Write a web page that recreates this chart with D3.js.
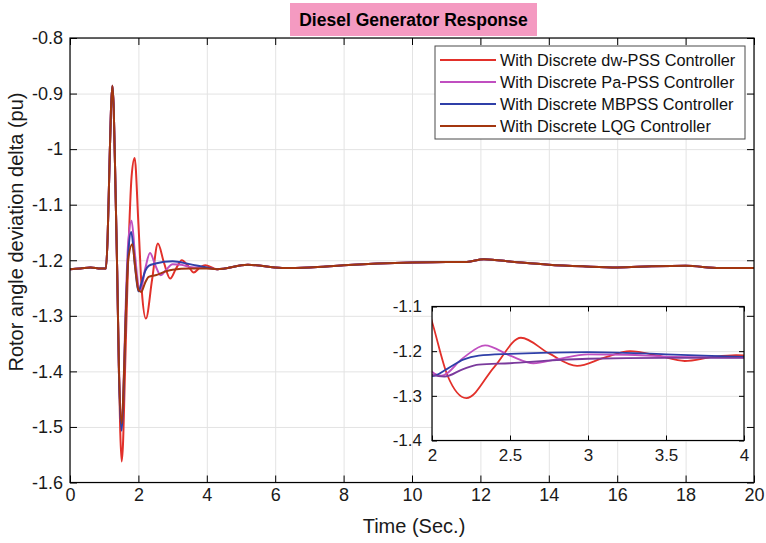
<!DOCTYPE html>
<html>
<head>
<meta charset="utf-8">
<script src="https://cdn.jsdelivr.net/npm/d3@7"></script>
<style>
  body { margin: 0; background: #fff; }
  svg { display: block; font-family: "Liberation Sans", Arial, sans-serif; }
</style>
</head>
<body>
<div id="chart"></div>
<script>
// values: [time (s), delta (pu)]
const preFault = [[0, -1.216], [0.3, -1.215], [0.6, -1.213], [0.9, -1.215], [1.05, -1.215]];
const spikeUp = [[1.1, -1.16], [1.15, -1.04], [1.2, -0.925], [1.24, -0.886], [1.28, -0.93], [1.33, -1.07], [1.38, -1.22]];
const settleTail = [[4.3, -1.216], [5.2, -1.208], [6.2, -1.214], [7, -1.213], [8, -1.209], [9, -1.206], [10, -1.204],
  [11, -1.203], [11.6, -1.203], [12.1, -1.198], [13, -1.203], [14, -1.208], [15, -1.211], [16, -1.213], [17, -1.211],
  [18, -1.21], [19, -1.214], [20, -1.214]];

const dwPss = [[1.43, -1.4], [1.47, -1.51], [1.51, -1.562], [1.55, -1.53], [1.6, -1.42], [1.7, -1.2], [1.8, -1.05],
  [1.89, -1.016], [2.0, -1.134], [2.1, -1.255], [2.22, -1.305], [2.4, -1.235], [2.57, -1.17], [2.75, -1.205],
  [2.93, -1.233], [3.1, -1.215], [3.27, -1.2], [3.45, -1.21], [3.62, -1.222], [3.8, -1.213], [3.95, -1.209]];
const paPss = [[1.43, -1.39], [1.51, -1.49], [1.56, -1.44], [1.62, -1.3], [1.7, -1.17], [1.8, -1.129], [1.9, -1.19],
  [2.0, -1.246], [2.06, -1.255], [2.2, -1.215], [2.34, -1.187], [2.5, -1.21], [2.65, -1.227], [2.8, -1.218],
  [3.0, -1.207], [3.25, -1.208], [3.5, -1.212], [4.0, -1.214]];
const mbPss = [[1.43, -1.4], [1.51, -1.507], [1.56, -1.45], [1.62, -1.32], [1.7, -1.19], [1.79, -1.149], [1.9, -1.21],
  [2.0, -1.256], [2.1, -1.239], [2.2, -1.219], [2.3, -1.21], [2.5, -1.206], [3.0, -1.202], [3.5, -1.207], [4.0, -1.213]];
const lqg = [[1.43, -1.39], [1.51, -1.494], [1.56, -1.44], [1.62, -1.32], [1.7, -1.2], [1.82, -1.171], [1.92, -1.22],
  [2.0, -1.253], [2.08, -1.257], [2.2, -1.24], [2.3, -1.23], [2.5, -1.227], [2.8, -1.22], [3.0, -1.217],
  [3.5, -1.215], [4.0, -1.215]];

const seriesNames = ['With Discrete dw-PSS Controller', 'With Discrete Pa-PSS Controller',
  'With Discrete MBPSS Controller', 'With Discrete LQG Controller'];
const seriesValues = [dwPss, paPss, mbPss, lqg];
const colors = ['#e2302a', '#c04fc0', '#2f3fa8', '#a3360f'];
const insetColors = ['#e2302a', '#c04fc0', '#2f3fa8', '#7a3a9c'];

const xTicks = d3.range(0, 21, 2);
const yTicks = [-0.8, -0.9, -1, -1.1, -1.2, -1.3, -1.4, -1.5, -1.6];
const insetXTicks = [2, 2.5, 3, 3.5, 4];
const insetYTicks = [-1.1, -1.2, -1.3, -1.4];

const series = seriesValues.map(s => preFault.concat(spikeUp, s, settleTail));

const W = 766, H = 543;
const svg = d3.select('#chart').append('svg').attr('width', W).attr('height', H);

// title
svg.append('rect').attr('x', 290).attr('y', 3).attr('width', 247).attr('height', 33).attr('fill', '#f49ac1');
svg.append('text').attr('x', 413.5).attr('y', 20).attr('text-anchor', 'middle').attr('dominant-baseline', 'central')
  .style('font-size', '17.5px').style('font-weight', 'bold').text('Diesel Generator Response');

function drawAxes(g, x, y, w, h, xt, yt, opts) {
  // grid
  g.append('g').attr('transform', `translate(0,${h})`)
    .call(d3.axisBottom(x).tickValues(xt).tickSize(-h).tickFormat(''))
    .call(a => a.select('.domain').remove())
    .selectAll('line').attr('stroke', '#e3e3e3');
  g.append('g')
    .call(d3.axisLeft(y).tickValues(yt).tickSize(-w).tickFormat(''))
    .call(a => a.select('.domain').remove())
    .selectAll('line').attr('stroke', '#e3e3e3');

  const fmt = d => d3.format('')(d).replace('−', '-');
  const style = a => {
    a.select('.domain').remove();
    a.selectAll('line').attr('stroke', '#000');
    a.selectAll('text').attr('fill', '#1a1a1a').style('font-size', opts.font + 'px');
  };
  g.append('g').attr('class', 'xaxis').attr('transform', `translate(0,${h})`)
    .call(d3.axisBottom(x).tickValues(xt).tickSize(-opts.tick).tickPadding(opts.padX).tickFormat(fmt)).call(style);
  g.append('g').attr('class', 'yaxis')
    .call(d3.axisLeft(y).tickValues(yt).tickSize(-opts.tick).tickPadding(opts.padY).tickFormat(fmt)).call(style);
  g.append('g').call(d3.axisTop(x).tickValues(xt).tickSize(-opts.tick).tickFormat('')).call(style);
  g.append('g').attr('transform', `translate(${w},0)`)
    .call(d3.axisRight(y).tickValues(yt).tickSize(-opts.tick).tickFormat('')).call(style);
}

function drawLines(g, x, y, w, h, clipId, cols, width) {
  g.append('clipPath').attr('id', clipId).append('rect').attr('width', w).attr('height', h);
  const line = d3.line().x(d => x(d[0])).y(d => y(d[1])).curve(d3.curveMonotoneX);
  g.append('g').attr('clip-path', `url(#${clipId})`)
    .selectAll('path').data(series).join('path')
    .attr('d', line).attr('fill', 'none')
    .attr('stroke', (d, i) => cols[i]).attr('stroke-width', width)
    .attr('stroke-linejoin', 'round');
}

// *** main axes *** //
const m = { left: 70, top: 38, width: 684, height: 444.5 };
const x = d3.scaleLinear().domain([0, 20]).range([0, m.width]);
const y = d3.scaleLinear().domain([-1.6, -0.8]).range([m.height, 0]);
const main = svg.append('g').attr('transform', `translate(${m.left},${m.top})`);
main.append('rect').attr('width', m.width).attr('height', m.height).attr('fill', '#fff');
drawAxes(main, x, y, m.width, m.height, xTicks, yTicks, { tick: 7, padX: 6, padY: 7, font: 18 });
drawLines(main, x, y, m.width, m.height, 'clip-main', colors, 2);
main.append('rect').attr('width', m.width).attr('height', m.height)
  .attr('fill', 'none').attr('stroke', '#000').attr('stroke-width', 1.2);

svg.append('text').attr('x', 414).attr('y', 533).attr('text-anchor', 'middle')
  .style('font-size', '20px').attr('fill', '#1a1a1a').text('Time (Sec.)');
svg.append('text').attr('transform', 'translate(23,232) rotate(-90)').attr('text-anchor', 'middle')
  .style('font-size', '20px').attr('fill', '#1a1a1a').text('Rotor angle deviation delta (pu)');

// *** legend *** //
const lg = svg.append('g').attr('transform', 'translate(435,46)');
lg.append('rect').attr('width', 310).attr('height', 93).attr('fill', '#fff')
  .attr('stroke', '#4a4a4a').attr('stroke-width', 1);
const items = lg.selectAll('g.item').data(seriesNames).join('g').attr('class', 'item')
  .attr('transform', (d, i) => `translate(0,${14 + i * 22})`);
items.append('line').attr('x1', 5).attr('x2', 61).attr('stroke', (d, i) => colors[i]).attr('stroke-width', 2);
items.append('text').attr('x', 65).attr('dy', '0.35em').style('font-size', '16.3px').attr('fill', '#111').text(d => d);

// *** inset *** //
const ins = { left: 432, top: 306.5, width: 312, height: 134 };
const xi = d3.scaleLinear().domain([2, 4]).range([0, ins.width]);
const yi = d3.scaleLinear().domain([-1.4, -1.1]).range([ins.height, 0]);
const inset = svg.append('g').attr('transform', `translate(${ins.left},${ins.top})`);
inset.append('rect').attr('width', ins.width).attr('height', ins.height).attr('fill', '#fff');
drawAxes(inset, xi, yi, ins.width, ins.height, insetXTicks, insetYTicks, { tick: 5, padX: 8, padY: 10, font: 17 });
drawLines(inset, xi, yi, ins.width, ins.height, 'clip-inset', insetColors, 1.8);
inset.append('rect').attr('width', ins.width).attr('height', ins.height)
  .attr('fill', 'none').attr('stroke', '#000').attr('stroke-width', 1.2);
</script>
</body>
</html>
